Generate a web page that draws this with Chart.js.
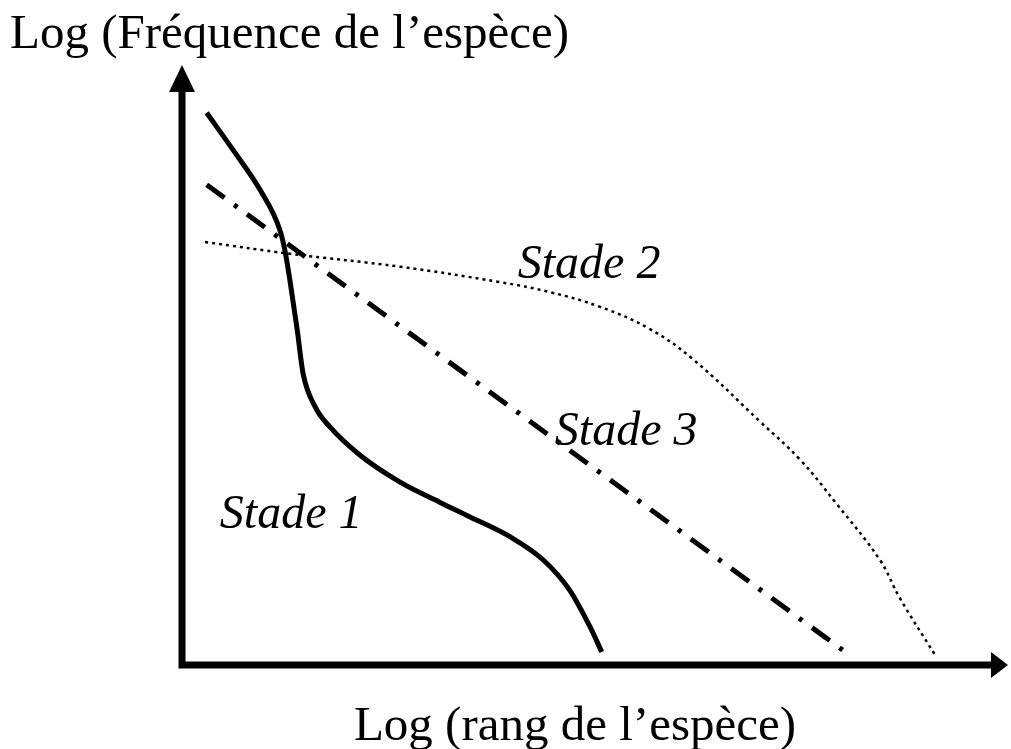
<!DOCTYPE html>
<html>
<head>
<meta charset="utf-8">
<script src="https://cdn.jsdelivr.net/npm/chart.js@4/dist/chart.umd.min.js"></script>
<style>
  html, body { margin: 0; padding: 0; background: #fff; }
  canvas { display: block; }
</style>
</head>
<body>
<canvas id="rankChart" width="1011" height="749"></canvas>
<script>
// values, axes 0..100 (arbitrary log units)
const stage1X = [3.0, 6.2, 9.5, 11.9, 12.5, 13.1, 14.0, 14.7, 16.2, 18.0, 21.6, 26.5, 31.3, 35.0, 39.9, 43.9, 47.1, 49.6, 51.0];
const stage1Y = [93.6, 87.3, 80.5, 73.7, 70.3, 65.3, 56.8, 49.5, 43.7, 40.3, 35.6, 31.0, 27.6, 25.1, 21.7, 17.8, 12.7, 6.4, 2.2];

const stage2X = [2.8, 13.1, 26.5, 38.6, 44.7, 50.8, 56.9, 62.1, 70.2, 75.1, 79.6, 84.8, 87.2, 91.5];
const stage2Y = [71.7, 69.7, 67.5, 64.9, 63.2, 60.7, 56.9, 51.8, 41.3, 34.8, 27.2, 17.8, 11.4, 1.7];

const stage3X = [3.0, 80.6];
const stage3Y = [81.4, 2.2];

const stageLabels = ['Stade 1', 'Stade 2', 'Stade 3'];
const labelX = [4.6, 40.8, 45.3];
const labelY = [25.4, 67.8, 39.5];

const yTitle = 'Log (Fréquence de l\u2019espèce)';
const xTitle = 'Log (rang de l\u2019espèce)';

const toPoints = (xs, ys) => xs.map((x, i) => ({ x: x, y: ys[i] }));

const serif = '"Liberation Serif", "Times New Roman", serif';

// axes with arrow heads, stage names and axis titles
const decorations = {
  id: 'decorations',
  afterDatasetsDraw(chart) {
    const ctx = chart.ctx;
    const xs = chart.scales.x;
    const ys = chart.scales.y;
    const x0 = xs.getPixelForValue(0);
    const y0 = ys.getPixelForValue(0);
    const xEnd = xs.getPixelForValue(100);
    const yEnd = ys.getPixelForValue(100);

    ctx.save();
    ctx.strokeStyle = '#000';
    ctx.fillStyle = '#000';
    ctx.lineWidth = 7;
    ctx.lineCap = 'square';
    ctx.beginPath();
    ctx.moveTo(x0, yEnd + 20);
    ctx.lineTo(x0, y0);
    ctx.lineTo(xEnd - 12, y0);
    ctx.stroke();

    // arrow up
    ctx.beginPath();
    ctx.moveTo(x0, yEnd - 10);
    ctx.lineTo(x0 - 13, yEnd + 17);
    ctx.lineTo(x0 + 13, yEnd + 17);
    ctx.closePath();
    ctx.fill();

    // arrow right
    ctx.beginPath();
    ctx.moveTo(xEnd + 3, y0);
    ctx.lineTo(xEnd - 14, y0 - 13);
    ctx.lineTo(xEnd - 14, y0 + 13);
    ctx.closePath();
    ctx.fill();

    ctx.font = 'italic 48px ' + serif;
    ctx.textBaseline = 'middle';
    ctx.textAlign = 'left';
    stageLabels.forEach((t, i) => {
      ctx.fillText(t, xs.getPixelForValue(labelX[i]), ys.getPixelForValue(labelY[i]));
    });

    ctx.font = '49px ' + serif;
    ctx.textBaseline = 'alphabetic';
    ctx.fillText(yTitle, 10, 48);
    ctx.textAlign = 'center';
    ctx.fillText(xTitle, 575, 740);
    ctx.restore();
  }
};

const rankChart = new Chart(
  document.getElementById('rankChart').getContext('2d'),
  {
    type: 'scatter',
    data: {
      datasets: [
        {
          label: stageLabels[0],
          data: toPoints(stage1X, stage1Y),
          showLine: true,
          borderColor: '#000',
          borderWidth: 5,
          pointRadius: 0,
          cubicInterpolationMode: 'monotone'
        },
        {
          label: stageLabels[1],
          data: toPoints(stage2X, stage2Y),
          showLine: true,
          borderColor: '#000',
          borderWidth: 2.5,
          borderDash: [3, 4],
          pointRadius: 0,
          tension: 0.4
        },
        {
          label: stageLabels[2],
          data: toPoints(stage3X, stage3Y),
          showLine: true,
          borderColor: '#000',
          borderWidth: 5,
          borderDash: [22, 12, 4, 12],
          pointRadius: 0
        }
      ]
    },
    options: {
      responsive: false,
      animation: false,
      layout: { padding: { left: 182, right: 6, top: 75, bottom: 84 } },
      plugins: {
        legend: { display: false },
        tooltip: { enabled: false }
      },
      scales: {
        x: { type: 'linear', min: 0, max: 100, display: false },
        y: { type: 'linear', min: 0, max: 100, display: false }
      }
    },
    plugins: [decorations]
  }
);
</script>
</body>
</html>
